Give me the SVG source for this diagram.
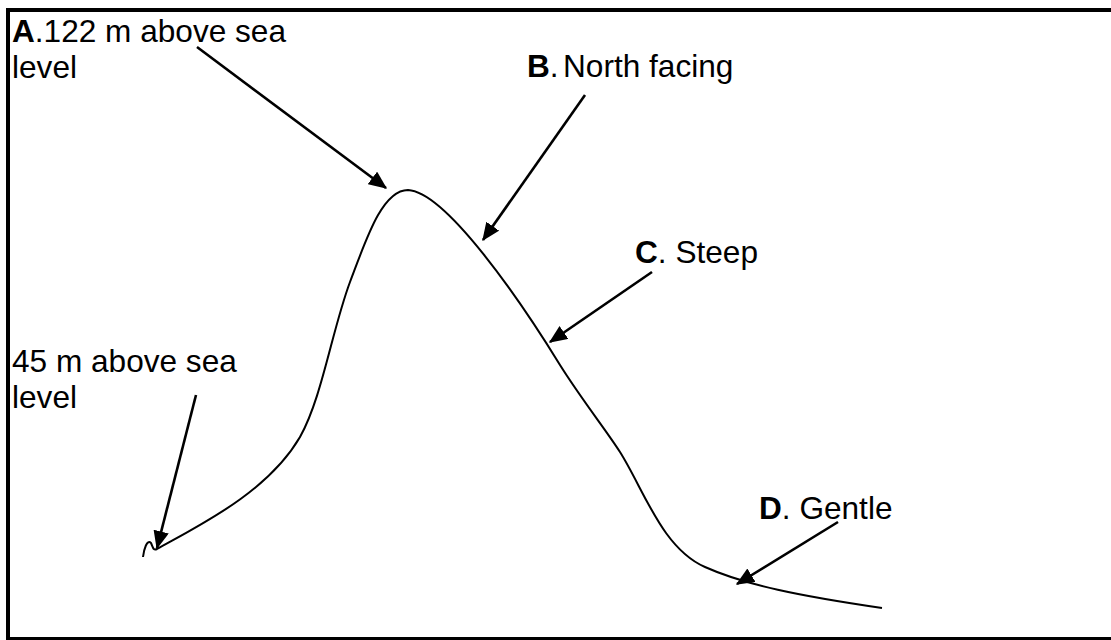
<svg xmlns="http://www.w3.org/2000/svg" width="1111" height="640" viewBox="0 0 1111 640">
  <defs>
    <style>
      .lbl { font-family: "Liberation Sans", Arial, sans-serif; font-size: 31.6px; fill: #000; }
      .key { font-weight: bold; }
      .ptr { stroke: #000; stroke-width: 2.6; fill: none; marker-end: url(#head); }
      .slope { stroke: #000; stroke-width: 2; fill: none; }
    </style>
    <marker id="head" markerWidth="7" markerHeight="6" refX="6.5" refY="3" orient="auto" markerUnits="strokeWidth">
      <path d="M0,0 L7,3 L0,6 Z" fill="#000"/>
    </marker>
  </defs>
  <rect x="0" y="0" width="1111" height="640" fill="#fff"/>
  <!-- frame, right side runs off the page -->
  <path d="M1111,10 L8,10 L8,639 L1111,639" fill="none" stroke="#000" stroke-width="4"/>

  <!-- hill profile -->
  <g id="hill">
    <path class="slope" d="M143,557 C144,549 147,539 151,543 C153,547 153,551 157,549 C200,525 268,492 300,437 C322,398 332,330 350,282 C366,240 382,190 408,190 C446,192 520,300 560,365 C582,400 606,430 620,452 C644,490 662,548 705,567 C745,585 800,596 882,608"/>
  </g>

  <g id="connectors">
    <line class="ptr" x1="197" y1="47" x2="386" y2="188"/>
    <line class="ptr" x1="585" y1="95" x2="483" y2="240"/>
    <line class="ptr" x1="652" y1="272" x2="550" y2="342"/>
    <line class="ptr" x1="838" y1="522" x2="737" y2="584"/>
    <line class="ptr" x1="196" y1="395" x2="157" y2="548"/>
  </g>

  <g id="label-a">
    <text class="lbl" x="12" y="42"><tspan class="key">A</tspan>.122 m above sea</text>
    <text class="lbl" x="12" y="78">level</text>
  </g>
  <g id="label-b">
    <text class="lbl" x="527" y="77"><tspan class="key">B</tspan>.</text>
    <text class="lbl" x="563" y="77">North facing</text>
  </g>
  <g id="label-c">
    <text class="lbl" x="635" y="263"><tspan class="key">C</tspan>. Steep</text>
  </g>
  <g id="label-d">
    <text class="lbl" x="759" y="519"><tspan class="key">D</tspan>. Gentle</text>
  </g>
  <g id="label-base">
    <text class="lbl" x="12" y="372">45 m above sea</text>
    <text class="lbl" x="12" y="408">level</text>
  </g>
</svg>
